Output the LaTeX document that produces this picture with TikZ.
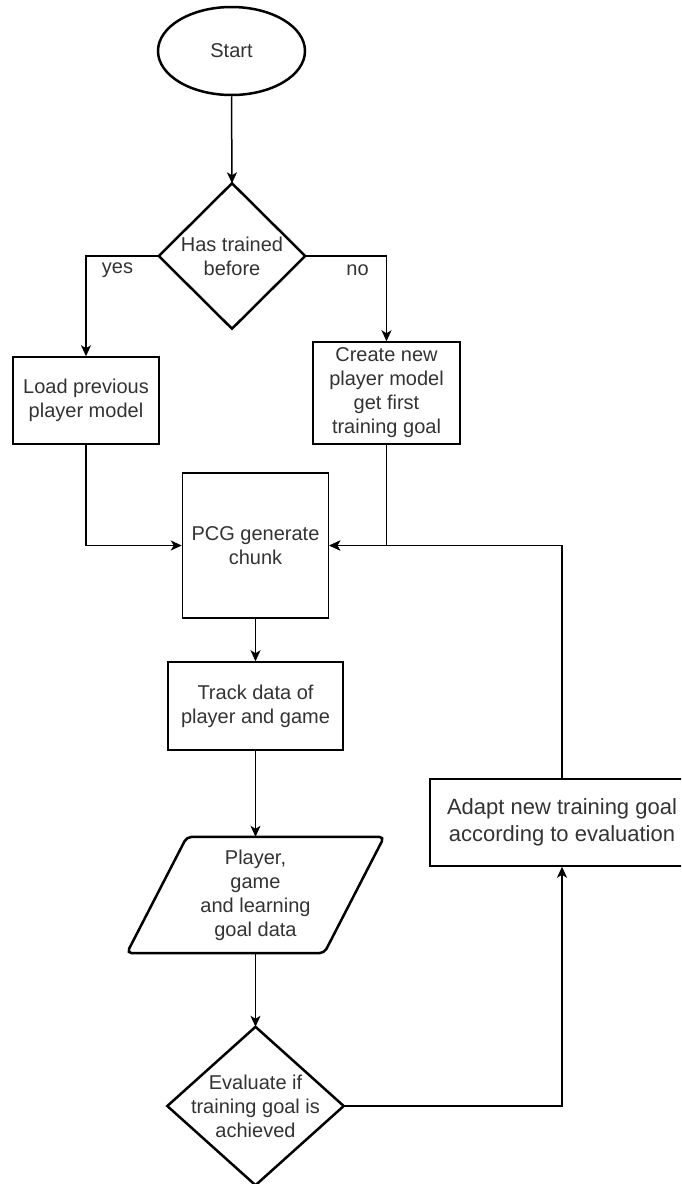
\documentclass[tikz,border=0pt]{standalone}
\usepackage{fontspec}
\setmainfont{Liberation Sans}
\usetikzlibrary{shapes.geometric,arrows.meta}
\begin{document}
\begin{tikzpicture}[x=1pt,y=-1pt,
  every node/.style={font=\fontsize{20}{24}\selectfont, text=black!80, align=center, inner sep=0pt},
  box/.style={draw, line width=1.5pt, rectangle},
  outline/.style={draw, line width=2.5pt, line join=miter},
  conn/.style={line width=1.5pt, -{Stealth[length=11pt,width=10pt,inset=3pt]}}]
\clip (0,0) rectangle (681,1184);
\fill[white] (0,0) rectangle (681,1184);
% nodes
\node[ellipse, draw, line width=2.5pt, minimum width=147pt, minimum height=88pt] (start) at (231.5,51) {Start};
\node[minimum width=146pt, minimum height=145pt] (d1) at (232,256) {Has trained\\before};
\draw[outline] (d1.north) -- (d1.east) -- (d1.south) -- (d1.west) -- cycle;
\node[box, minimum width=146pt, minimum height=87pt] (load) at (86,400.5) {Load previous\\player model};
\node[box, minimum width=147pt, minimum height=102pt] (create) at (386.5,393) {Create new\\player model\\get first\\training goal};
\node[box, minimum width=146pt, minimum height=145pt] (pcg) at (255.5,545.5) {PCG generate\\chunk};
\node[box, minimum width=175pt, minimum height=88pt] (track) at (255.5,706) {Track data of\\player and game};
\node[minimum width=257pt, minimum height=116pt] (data) at (255.5,895) {Player,\\game\\and learning\\goal data};
\draw[outline, rounded corners=5pt] (data.south) -- (data.south west) -- ([xshift=60pt]data.north west) -- (data.north east) -- ([xshift=-60pt]data.south east) -- cycle;
\node[minimum width=176pt, minimum height=158pt] (d2) at (255.5,1106) {Evaluate if\\training goal is\\achieved};
\draw[outline] (d2.north) -- (d2.east) -- (d2.south) -- (d2.west) -- cycle;
\node[box, minimum width=264pt, minimum height=87pt, font=\fontsize{22}{27}\selectfont] (adapt) at (562,822.5) {Adapt new training goal\\according to evaluation};
\node (yes) at (117.5,270) {yes};
\node (no) at (357.5,270) {no};
% connectors
\draw[conn] (start.south) -- (d1.north);
\draw[conn] (d1.west) -| (load.north);
\draw[conn] (d1.east) -| (create.north);
\draw[conn] (load.south) |- (pcg.west);
\draw[conn] (create.south) |- (pcg.east);
\draw[conn] (adapt.north) |- (pcg.east);
\draw[conn] (pcg.south) -- (track.north);
\draw[conn] (track.south) -- (data.north);
\draw[conn] (data.south) -- (d2.north);
\draw[conn] (d2.east) -| (adapt.south);
\end{tikzpicture}
\end{document}
